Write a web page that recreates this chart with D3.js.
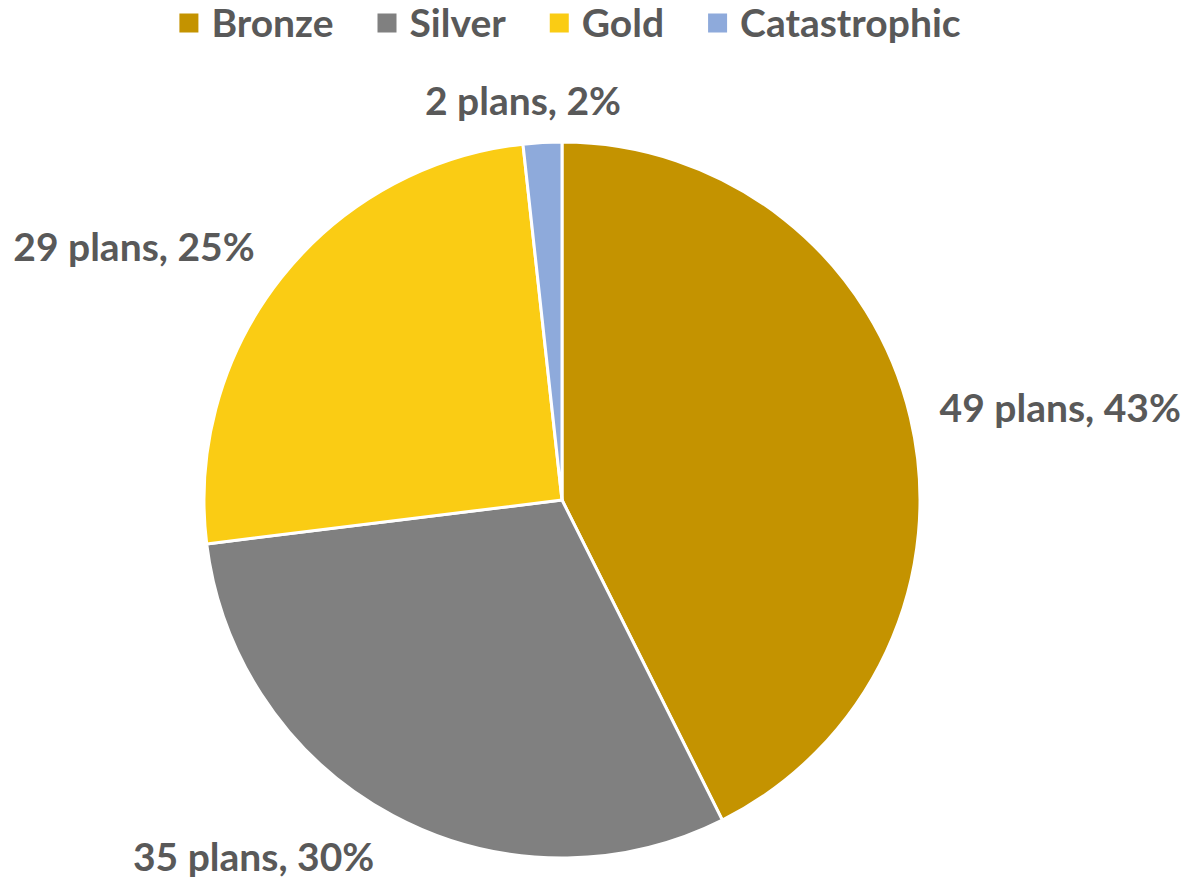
<!DOCTYPE html>
<html>
<head>
<meta charset="utf-8">
<script src="https://cdn.jsdelivr.net/npm/d3@7"></script>
<style>
  html, body { margin: 0; padding: 0; background: #ffffff; }
  svg { display: block; }
  text { font-family: Lato, "Open Sans", sans-serif; font-weight: 700; fill: #595959; }
</style>
</head>
<body>
<svg id="chart" width="1190" height="886"></svg>
<script>
// Plan tiers and how many plans fall in each
const categories = ["Bronze", "Silver", "Gold", "Catastrophic"];
const planCounts = [49, 35, 29, 2];
const colors = ["#C49300", "#808080", "#FACC14", "#8EAADB"];

// Layout
const width = 1190, height = 886;
const cx = 562, cy = 500, radius = 358;
const labelGap = 20;
const fontSize = 39;
// fine adjustments of each data label relative to its default spot
const labelNudge = [[13, 0], [-73, 6], [-37, -6], [-13, -2]];

const svg = d3.select("#chart");
const total = d3.sum(planCounts);
const data = categories.map((c, i) => ({ name: c, value: planCounts[i], color: colors[i] }));

const pie = d3.pie().value(d => d.value).sort(null);
const arc = d3.arc().innerRadius(0).outerRadius(radius);
const arcs = pie(data);

const g = svg.append("g").attr("transform", `translate(${cx},${cy})`);

g.selectAll("path.slice")
  .data(arcs)
  .join("path")
  .attr("class", "slice")
  .attr("d", arc)
  .attr("fill", d => d.data.color)
  .attr("stroke", "#ffffff")
  .attr("stroke-width", 3)
  .attr("stroke-linejoin", "round");

// Data labels outside the pie
const fmtPct = v => Math.round(v / total * 100) + "%";
g.selectAll("text.label")
  .data(arcs)
  .join("text")
  .attr("class", "label")
  .attr("font-size", fontSize)
  .attr("text-anchor", "middle")
  .text(d => `${d.data.value} plans, ${fmtPct(d.data.value)}`)
  .each(function (d, i) {
    const t = d3.select(this);
    const w = this.getComputedTextLength();
    const h = 40;
    const mid = (d.startAngle + d.endAngle) / 2;
    const dx = Math.sin(mid), dy = -Math.cos(mid);
    const r = radius + labelGap;
    const x = r * dx + dx * w / 2 + labelNudge[i][0];
    const y = r * dy + dy * h / 2 + labelNudge[i][1];
    // baseline so that cap middle sits on y
    t.attr("x", x).attr("y", y + fontSize * 0.36);
  });

// Legend
const legendY = 23;
const sw = 19, swGap = 13, itemGap = 44;
const legend = svg.append("g");
const items = legend.selectAll("g.item")
  .data(data)
  .join("g")
  .attr("class", "item");
items.append("rect")
  .attr("width", sw).attr("height", sw)
  .attr("y", legendY - sw / 2)
  .attr("fill", d => d.color);
items.append("text")
  .attr("font-size", fontSize)
  .attr("x", sw + swGap)
  .attr("y", legendY + fontSize * 0.36)
  .text(d => d.name);
let xpos = 0;
const widths = [];
items.each(function () {
  const tw = d3.select(this).select("text").node().getComputedTextLength();
  widths.push(sw + swGap + tw);
});
const totalW = d3.sum(widths) + itemGap * (widths.length - 1);
xpos = 570 - totalW / 2;
items.attr("transform", (d, i) => {
  const x0 = xpos;
  xpos += widths[i] + itemGap;
  return `translate(${x0},0)`;
});
</script>
</body>
</html>
